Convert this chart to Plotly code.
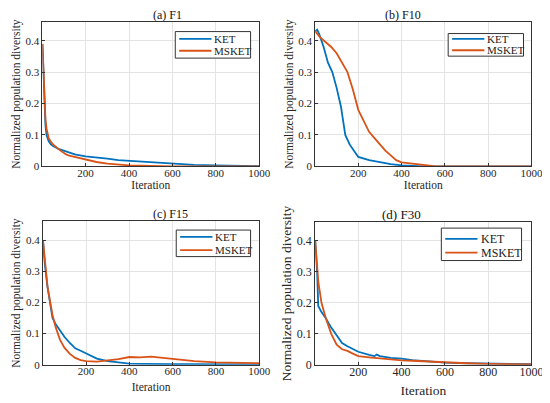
import plotly.graph_objects as go
from plotly.subplots import make_subplots

# (a) F1
a_it = [1, 5, 10, 15, 20, 30, 40, 50, 75, 100, 110, 125, 150, 200, 250, 300, 350, 400, 450, 500, 550, 600, 700, 800, 900, 1000]
a_ket = [0.39, 0.30, 0.20, 0.13, 0.10, 0.08, 0.07, 0.065, 0.056, 0.050, 0.048, 0.042, 0.038, 0.032, 0.029, 0.025, 0.020, 0.018, 0.016, 0.013, 0.010, 0.008, 0.005, 0.003, 0.002, 0.001]
a_msket = [0.39, 0.31, 0.22, 0.15, 0.12, 0.09, 0.078, 0.07, 0.055, 0.042, 0.038, 0.034, 0.030, 0.021, 0.014, 0.009, 0.005, 0.003, 0.002, 0.001, 0.0005, 0.0, 0.0, 0.0, 0.0, 0.0]

# (b) F10
b_it = [1, 10, 20, 40, 60, 80, 100, 120, 140, 160, 180, 200, 250, 300, 350, 400, 450, 500, 550, 600, 700, 800, 900, 1000]
b_ket = [0.43, 0.435, 0.42, 0.38, 0.33, 0.30, 0.25, 0.19, 0.10, 0.07, 0.05, 0.03, 0.02, 0.013, 0.007, 0.003, 0.001, 0.0, 0.0, 0.0, 0.0, 0.0, 0.0, 0.0]
b_msk_it = [1, 25, 50, 75, 100, 125, 150, 175, 200, 225, 250, 275, 300, 325, 350, 375, 400, 450, 500, 550, 600, 700, 800, 900, 1000]
b_msket = [0.43, 0.41, 0.395, 0.38, 0.36, 0.33, 0.30, 0.245, 0.18, 0.145, 0.11, 0.09, 0.07, 0.05, 0.035, 0.02, 0.013, 0.008, 0.005, 0.001, 0.0, 0.0, 0.0, 0.0, 0.0]

# (c) F15
c_it = [1, 10, 22, 45, 60, 80, 100, 125, 150, 175, 200, 250, 300, 350, 400, 450, 500, 550, 600, 650, 700, 800, 900, 1000]
c_ket = [0.40, 0.32, 0.25, 0.15, 0.13, 0.11, 0.09, 0.07, 0.053, 0.045, 0.037, 0.02, 0.012, 0.007, 0.004, 0.003, 0.002, 0.002, 0.002, 0.002, 0.002, 0.001, 0.001, 0.001]
c_msket = [0.40, 0.33, 0.25, 0.16, 0.12, 0.08, 0.055, 0.035, 0.022, 0.015, 0.012, 0.010, 0.013, 0.018, 0.025, 0.024, 0.026, 0.022, 0.018, 0.014, 0.012, 0.008, 0.006, 0.005]

# (d) F30
d_it = [1, 10, 15, 30, 50, 75, 100, 125, 150, 175, 200, 250, 275, 285, 300, 350, 400, 450, 500, 600, 700, 800, 900, 1000]
d_ket = [0.40, 0.30, 0.19, 0.17, 0.15, 0.12, 0.095, 0.07, 0.06, 0.052, 0.042, 0.032, 0.028, 0.033, 0.028, 0.022, 0.02, 0.015, 0.012, 0.007, 0.005, 0.004, 0.003, 0.002]
d_msket = [0.40, 0.32, 0.27, 0.20, 0.15, 0.10, 0.065, 0.05, 0.045, 0.036, 0.028, 0.024, 0.022, 0.021, 0.02, 0.016, 0.014, 0.013, 0.011, 0.007, 0.005, 0.003, 0.002, 0.001]

titles = ["(a) F1", "(b) F10", "(c) F15", "(d) F30"]
series_names = ["KET", "MSKET"]
x_ticks = [200, 400, 600, 800, 1000]
y_ticks = [0, 0.1, 0.2, 0.3, 0.4]

BLUE = "#0072BD"
ORANGE = "#D95319"
FONT = "Liberation Serif, Times New Roman, serif"
W, H = 550, 403

fig = make_subplots(rows=2, cols=2)

panels = [
    (1, 1, a_it, a_ket, a_it, a_msket),
    (1, 2, b_it, b_ket, b_msk_it, b_msket),
    (2, 1, c_it, c_ket, c_it, c_msket),
    (2, 2, d_it, d_ket, d_it, d_msket),
]

domains = [
    ([0.064, 0.467], [0.600, 0.965]),
    ([0.571, 0.973], [0.600, 0.965]),
    ([0.065, 0.467], [0.099, 0.461]),
    ([0.571, 0.973], [0.099, 0.459]),
]
xtitle_standoff = [1, 1, 6, 7]
# legend boxes in pixels: left, top, right, bottom, row1 y, row2 y
legend_px = [
    (171, 24, 248, 51, 31.5, 43.5),
    (450, 26, 527, 49, 31.5, 43),
    (172, 226, 248, 253, 233, 246.5),
    (443, 224, 525, 257, 235, 249),
]

for i, (r, c, xk, yk, xm, ym) in enumerate(panels):
    big = i == 3
    fig.add_trace(go.Scatter(x=xk, y=yk, mode="lines", name="KET", showlegend=False,
                             line=dict(color=BLUE, width=1.8)), row=r, col=c)
    fig.add_trace(go.Scatter(x=xm, y=ym, mode="lines", name="MSKET", showlegend=False,
                             line=dict(color=ORANGE, width=1.8)), row=r, col=c)
    tick_size = 12 if big else 11
    title_size = 13.5 if big else 11.5
    fig.update_xaxes(range=[1, 1000], tickvals=x_ticks, domain=domains[i][0],
                     showgrid=True, gridcolor="#e3e3e3", zeroline=False,
                     showline=True, linecolor="#333", mirror=True, linewidth=1,
                     ticks="inside", ticklen=3, tickcolor="#333", ticklabelstandoff=-4,
                     tickfont=dict(family=FONT, size=tick_size, color="#262626"),
                     title=dict(text="Iteration", font=dict(family=FONT, size=title_size, color="#262626"),
                                standoff=xtitle_standoff[i]),
                     row=r, col=c)
    fig.update_yaxes(range=[0, 0.46], tickvals=y_ticks, ticktext=["0", "0.1", "0.2", "0.3", "0.4"],
                     domain=domains[i][1],
                     showgrid=True, gridcolor="#e3e3e3", zeroline=False,
                     showline=True, linecolor="#333", mirror=True, linewidth=1,
                     ticks="inside", ticklen=3, tickcolor="#333",
                     tickfont=dict(family=FONT, size=tick_size, color="#262626"),
                     title=dict(text="Normalized population diversity",
                                font=dict(family=FONT, size=title_size, color="#262626"), standoff=2),
                     row=r, col=c)
    xd = domains[i][0]
    yd = domains[i][1]
    fig.add_annotation(text=titles[i], xref="paper", yref="paper",
                       x=(xd[0] + xd[1]) / 2, y=yd[1], yanchor="bottom", showarrow=False,
                       yshift=-2, font=dict(family=FONT, size=13 if big else 12, color="#111"))

    # legend box drawn by hand
    L, T, R, B, r1, r2 = legend_px[i]
    fig.add_shape(type="rect", xref="paper", yref="paper",
                  x0=L / W, x1=R / W, y0=1 - B / H, y1=1 - T / H,
                  line=dict(color="#333", width=1), fillcolor="white", layer="above")
    for ry, col, name in [(r1, BLUE, series_names[0]), (r2, ORANGE, series_names[1])]:
        fig.add_shape(type="line", xref="paper", yref="paper",
                      x0=(L + 4) / W, x1=(L + 37) / W, y0=1 - ry / H, y1=1 - ry / H,
                      line=dict(color=col, width=1.8), layer="above")
        fig.add_annotation(text=name, xref="paper", yref="paper",
                           x=(L + 38) / W, y=1 - ry / H, xanchor="left", yanchor="middle",
                           showarrow=False,
                           font=dict(family=FONT, size=12 if big else 11, color="#222"))

fig.update_layout(width=W, height=H, margin=dict(l=0, r=0, t=0, b=0),
                  paper_bgcolor="white", plot_bgcolor="white",
                  font=dict(family=FONT, color="#222"), showlegend=False)

fig.write_html("out.html")
